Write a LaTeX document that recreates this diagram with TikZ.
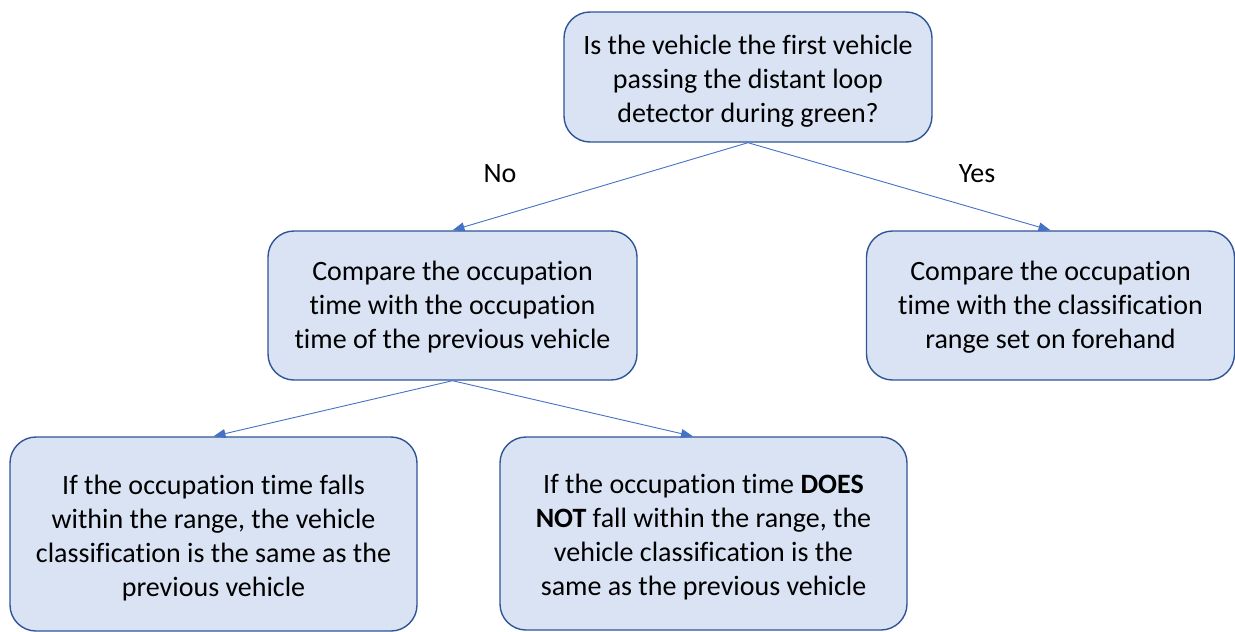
\documentclass[tikz,border=0pt]{standalone}
\usepackage{fontspec}
\setmainfont{Carlito}[Ligatures=NoCommon]
\usetikzlibrary{arrows.meta}
\definecolor{boxfill}{HTML}{DAE3F3}
\definecolor{boxline}{HTML}{2F5597}
\definecolor{arrowblue}{HTML}{4472C4}
\begin{document}
\begin{tikzpicture}[x=1pt,y=-1pt,
  box/.style={draw=boxline, fill=boxfill, line width=1.4pt, rounded corners=26pt,
    inner sep=0pt},
  txt/.style={align=center, inner sep=0pt, font=\fontsize{28}{34}\selectfont},
  link/.style={draw=arrowblue, line width=0.9pt, -{Triangle[length=12pt,width=9pt]}},
  lbl/.style={font=\fontsize{28}{34}\selectfont}]
\useasboundingbox (0,0) rectangle (1235,632);
% rounded boxes
\node[box, minimum width=368pt, minimum height=130pt] (q) at (748,77) {};
\node[box, minimum width=369pt, minimum height=149pt] (prev) at (452.5,305.5) {};
\node[box, minimum width=368pt, minimum height=149pt] (range) at (1050.5,305.5) {};
\node[box, minimum width=407pt, minimum height=194pt] (same) at (213.5,534) {};
\node[box, minimum width=407pt, minimum height=193pt] (diff) at (703.5,533.5) {};
% box texts
\node[txt] (qt) at ([yshift=-4pt]q.center)
  {Is the vehicle the first vehicle\\passing the distant loop\\detector during green?};
\node[txt] (prevt) at ([yshift=-2pt]prev.center)
  {Compare the occupation\\time with the occupation\\time of the previous vehicle};
\node[txt] (ranget) at ([yshift=-2pt]range.center)
  {Compare the occupation\\time with the classification\\range set on forehand};
\node[txt] (samet) at ([yshift=-4pt]same.center)
  {If the occupation time falls\\within the range, the vehicle\\classification is the same as the\\previous vehicle};
\node[txt] (difft) at ([yshift=-4pt]diff.center)
  {If the occupation time \textbf{DOES}\\\textbf{NOT} fall within the range, the\\vehicle classification is the\\same as the previous vehicle};
% connectors
\draw[link] (q.south) -- (prev.north);
\draw[link] (q.south) -- (range.north);
\draw[link] (prev.south) -- (same.north);
\draw[link] (prev.south) -- (diff.north -| 693,0);
% branch labels
\node[lbl] (no) at (500,174) {No};
\node[lbl] (yes) at (977,174) {Yes};
\end{tikzpicture}
\end{document}
